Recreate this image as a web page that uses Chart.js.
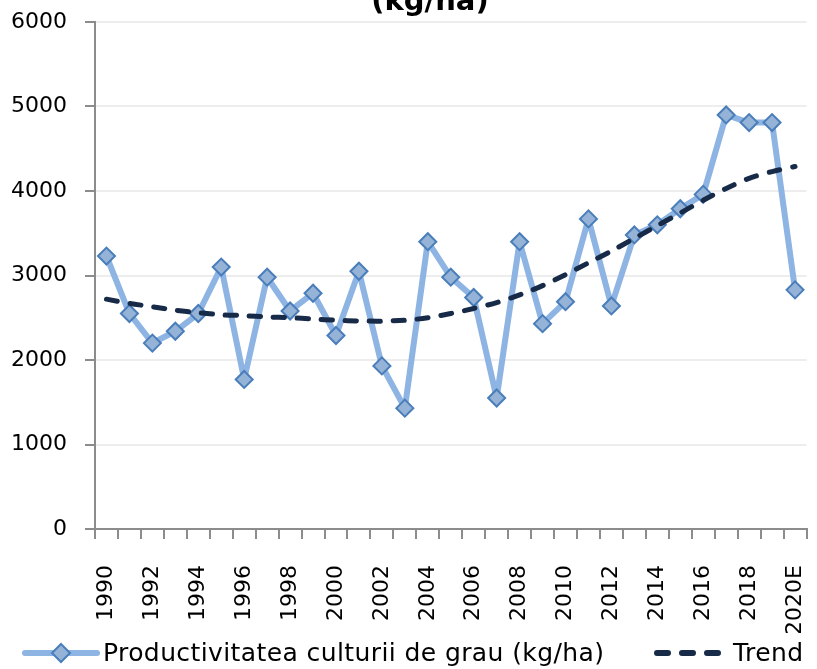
<!DOCTYPE html>
<html>
<head>
<meta charset="utf-8">
<script src="https://cdn.jsdelivr.net/npm/chart.js@4.4.0/dist/chart.umd.min.js"></script>
<style>
  html, body { margin: 0; padding: 0; background: #fff; overflow: hidden; }
  #wrap { position: relative; width: 817px; height: 669px; overflow: hidden; }
  #title {
    position: absolute; left: 0; width: 860px; top: -14px;
    text-align: center; font: bold 29px "DejaVu Sans", sans-serif;
    line-height: 29px; color: #000;
  }
  canvas { position: absolute; left: 0; top: 0; }
  .lg-text {
    position: absolute; top: 638px; font: 25px "DejaVu Sans", sans-serif;
    line-height: 30px; color: #000; white-space: nowrap; letter-spacing: 0.4px;
  }
  .lg-icon { position: absolute; top: 641px; }
</style>
</head>
<body>
<div id="wrap">
  <canvas id="chart" width="817" height="669"></canvas>
  <div id="title">(kg/ha)</div>
  <canvas class="lg-icon" id="icon0" width="80" height="24" style="left:21px"></canvas>
  <div class="lg-text" id="lab0" style="left:103px"></div>
  <canvas class="lg-icon" id="icon1" width="72" height="24" style="left:652px"></canvas>
  <div class="lg-text" id="lab1" style="left:733px"></div>
</div>
<script>
// categories
var years = ['1990','1991','1992','1993','1994','1995','1996','1997','1998','1999',
             '2000','2001','2002','2003','2004','2005','2006','2007','2008','2009',
             '2010','2011','2012','2013','2014','2015','2016','2017','2018','2019','2020E'];

// productivity, kg/ha
var yields = [3230, 2550, 2200, 2340, 2550, 3100, 1770, 2980, 2580, 2790,
              2290, 3050, 1930, 1430, 3400, 2980, 2740, 1550, 3400, 2430,
              2690, 3670, 2640, 3480, 3600, 3790, 3960, 4900, 4810, 4810, 2830];

// trend line as drawn in the picture
var trend = [2720, 2670, 2630, 2590, 2560, 2535, 2525, 2510, 2500, 2485,
             2470, 2462, 2460, 2470, 2500, 2550, 2610, 2680, 2770, 2880,
             3010, 3150, 3290, 3440, 3590, 3740, 3890, 4030, 4150, 4230, 4290];

var yTicks = [0, 1000, 2000, 3000, 4000, 5000, 6000];

var seriesName = 'Productivitatea culturii de grau (kg/ha)';
var trendName = 'Trend';

var seriesLine = '#8db4e2';
var markerFill = '#95b3d7';
var markerEdge = '#4a7ebb';
var trendColor = '#172b49';
var axisGray = '#8c8c8c';
var font = { family: '"DejaVu Sans", sans-serif', size: 22 };

// legend (html text + small drawn samples)
document.getElementById('lab0').textContent = seriesName;
document.getElementById('lab1').textContent = trendName;

var g = document.getElementById('icon0').getContext('2d');
g.strokeStyle = seriesLine; g.lineWidth = 6; g.lineCap = 'round';
g.beginPath(); g.moveTo(4, 12); g.lineTo(76, 12); g.stroke();
g.fillStyle = markerFill; g.strokeStyle = markerEdge; g.lineWidth = 2;
g.beginPath(); g.moveTo(40, 3); g.lineTo(49, 12); g.lineTo(40, 21); g.lineTo(31, 12); g.closePath();
g.fill(); g.stroke();

g = document.getElementById('icon1').getContext('2d');
g.strokeStyle = trendColor; g.lineWidth = 6; g.lineCap = 'round';
g.setLineDash([11, 14]);
g.beginPath(); g.moveTo(5, 12); g.lineTo(67, 12); g.stroke();

var ctx = document.getElementById('chart').getContext('2d');
var chart = new Chart(ctx, {
  type: 'line',
  data: {
    labels: years,
    datasets: [
      {
        label: seriesName,
        data: yields,
        borderColor: seriesLine,
        borderWidth: 6,
        borderJoinStyle: 'round',
        pointStyle: 'rectRot',
        pointRadius: 8.5,
        pointBackgroundColor: markerFill,
        pointBorderColor: markerEdge,
        pointBorderWidth: 2,
        tension: 0,
        order: 1
      },
      {
        label: trendName,
        data: trend,
        borderColor: trendColor,
        borderWidth: 5,
        borderDash: [11, 13],
        borderCapStyle: 'round',
        pointRadius: 0,
        tension: 0.3,
        order: 0
      }
    ]
  },
  options: {
    responsive: false,
    animation: false,
    layout: { padding: { left: 0, right: 5, top: 22, bottom: 36 } },
    plugins: {
      tooltip: { enabled: false },
      legend: { display: false }
    },
    scales: {
      x: {
        offset: true,
        grid: {
          offset: true,
          drawOnChartArea: false,
          color: axisGray,
          lineWidth: 2,
          tickLength: 10
        },
        border: { color: axisGray, width: 2 },
        ticks: {
          autoSkip: false,
          minRotation: 90,
          maxRotation: 90,
          padding: 26,
          color: '#000',
          font: font,
          callback: function(v, i) { return i % 2 === 0 ? years[i] : ''; }
        },
        afterFit: function(s) { s.height = 104; s.paddingLeft = 0; s.paddingRight = 0; }
      },
      y: {
        min: yTicks[0],
        max: yTicks[yTicks.length - 1],
        afterBuildTicks: function(s) { s.ticks = yTicks.map(function(v) { return { value: v }; }); },
        grid: {
          color: '#ededed',
          lineWidth: 2,
          tickColor: axisGray,
          tickLength: 10
        },
        border: { color: axisGray, width: 2 },
        ticks: {
          padding: 18,
          color: '#000',
          font: font,
          callback: function(v) { return String(v); }
        },
        afterFit: function(s) { s.width = 95; s.paddingTop = 0; s.paddingBottom = 0; }
      }
    }
  }
});
</script>
</body>
</html>
